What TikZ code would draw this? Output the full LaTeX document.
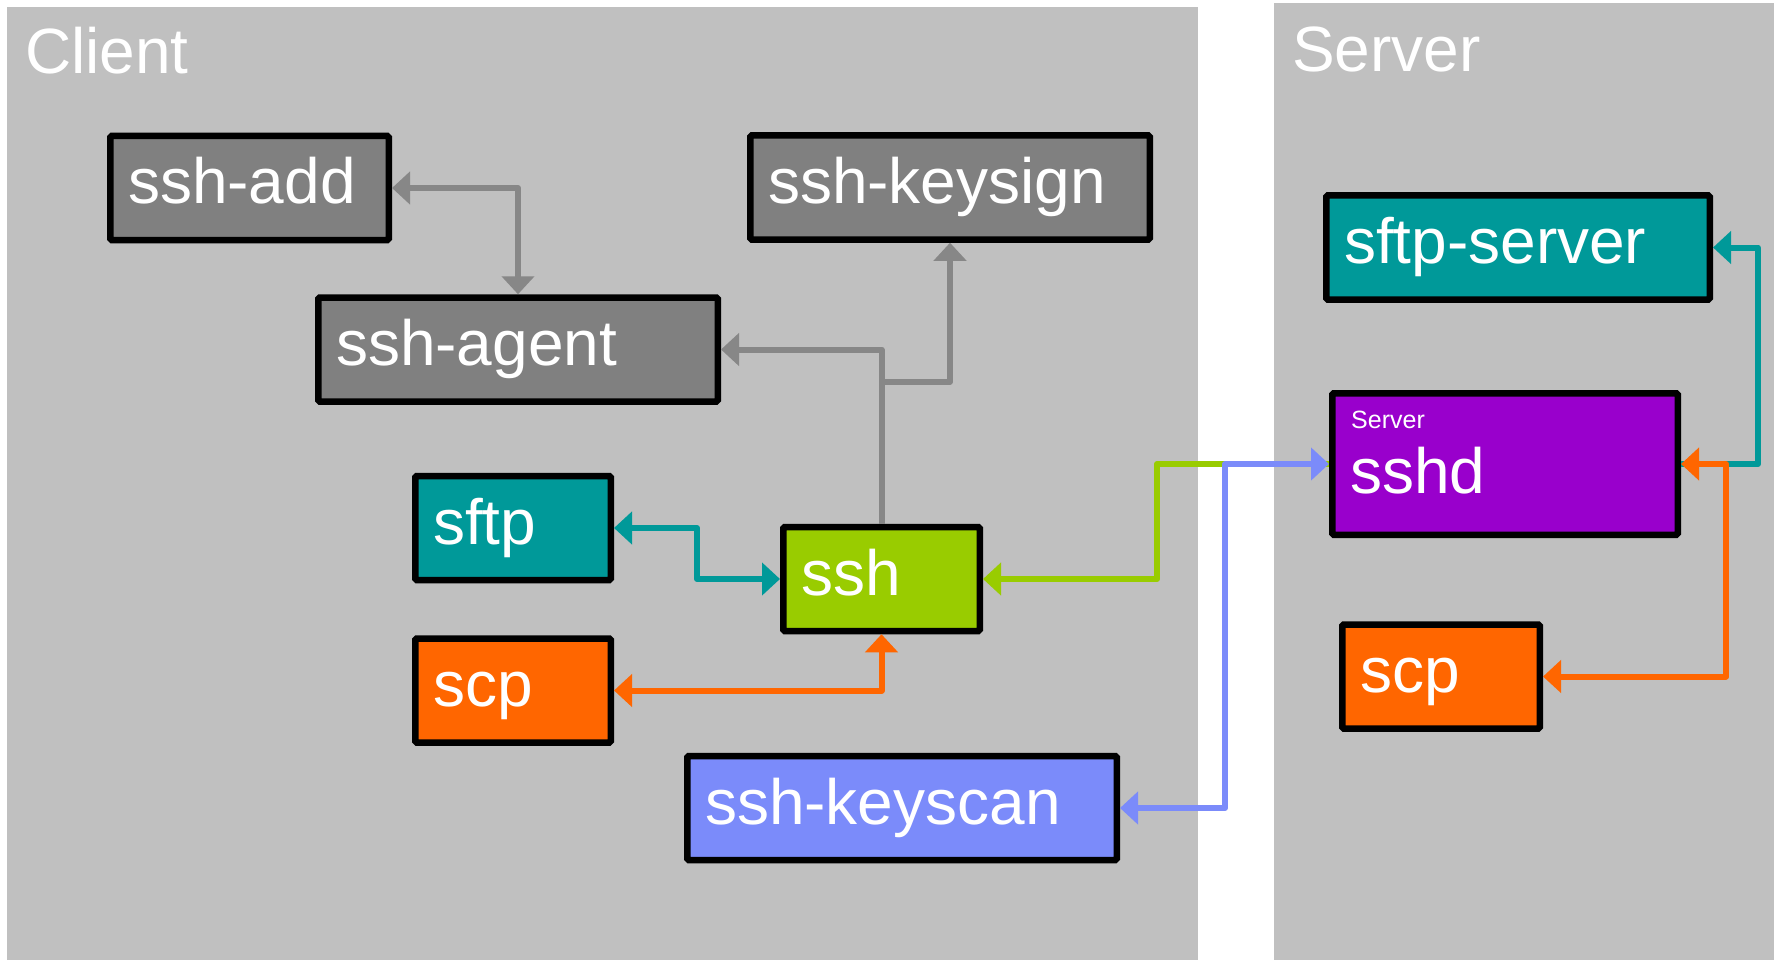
\documentclass[tikz,border=0pt]{standalone}
\usepackage{fontspec}
\setmainfont{Liberation Sans}
\usetikzlibrary{arrows.meta}
\definecolor{panelc}{HTML}{C0C0C0}
\definecolor{boxgray}{HTML}{808080}
\definecolor{linegray}{HTML}{878787}
\definecolor{tealc}{HTML}{009999}
\definecolor{greenc}{HTML}{99CC00}
\definecolor{orangec}{HTML}{FF6600}
\definecolor{bluec}{HTML}{7B8BFA}
\definecolor{purplec}{HTML}{9900CC}
\begin{document}
\begin{tikzpicture}[x=1pt,y=-1pt,
  pbox/.style={draw=black, line width=6.5pt, rounded corners=1.5pt, inner xsep=17.75pt,
    minimum height=104pt, text height=32pt, text depth=0pt, align=left,
    text=white, font=\fontsize{64}{70}\selectfont},
  title/.style={text=white, inner sep=0pt, anchor=base west, font=\fontsize{64}{70}\selectfont},
  small/.style={text=white, inner sep=0pt, anchor=base west, font=\fontsize{25}{30}\selectfont},
  conn/.style={line width=6pt, line join=round, >={Triangle[length=18pt,width=32pt]}},
]
\useasboundingbox (0,0) rectangle (1777,960);
\fill[white] (0,0) rectangle (1777,960);
\fill[panelc] (7,7) rectangle (1198,960);
\fill[panelc] (1274,3) rectangle (1774,960);

\node[title] (client) at (25,74) {Client};
\node[title] (server) at (1292,72) {Server};

\node[pbox, fill=boxgray, minimum width=278.5pt, text width=243pt] (add) at (249.5,188) {ssh-add};
\node[pbox, fill=boxgray, minimum width=399.5pt, text width=364pt] (keysign) at (950,187.5) {ssh-keysign};
\node[pbox, fill=boxgray, minimum width=399.5pt, text width=364pt] (agent) at (518,349.5) {ssh-agent};
\node[pbox, fill=tealc, minimum width=195.5pt, text width=160pt] (sftp) at (513,528) {sftp};
\node[pbox, fill=greenc, minimum width=196.5pt, text width=161pt] (ssh) at (881.5,579) {ssh};
\node[pbox, fill=orangec, minimum width=195.5pt, text width=160pt] (scpc) at (513,690.5) {scp};
\node[pbox, fill=bluec, minimum width=429.5pt, text width=394pt] (keyscan) at (902,808) {ssh-keyscan};
\node[pbox, fill=tealc, minimum width=383.5pt, text width=348pt] (sftpsrv) at (1518,247.5) {sftp-server};
\node[pbox, fill=purplec, minimum width=345.5pt, minimum height=141.5pt, text width=310pt, text height=58pt] (sshd) at (1505,464) {sshd};
\node[small] (srvlbl) at (1351,428) {Server};
\node[pbox, fill=orangec, minimum width=197.5pt, text width=162pt] (scps) at (1441,676.5) {scp};

% gray connectors
\draw[conn, linegray, <->] (add.east) -| (agent.north);
\draw[conn, linegray, ->] (ssh.north) |- (agent.east);
\draw[conn, linegray, ->] (ssh.north) -- ++(0,-142) -| (keysign.south);
% client teal / orange
\draw[conn, tealc, <->] (sftp.east) -- ++(83,0) |- (ssh.west);
\draw[conn, orangec, <->] (scpc.east) -| (ssh.south);
% green and blue
\draw[conn, greenc, <-] (ssh.east) -- ++(174,0) |- (sshd.west);
\draw[conn, bluec, <->] (sshd.west) -- ++(-104,0) |- (keyscan.east);
% server side
\draw[conn, tealc, ->] (sshd.east) -- ++(77,0) |- (sftpsrv.east);
\draw[conn, orangec, <->] (sshd.east) -- ++(45,0) |- (scps.east);
\end{tikzpicture}
\end{document}
